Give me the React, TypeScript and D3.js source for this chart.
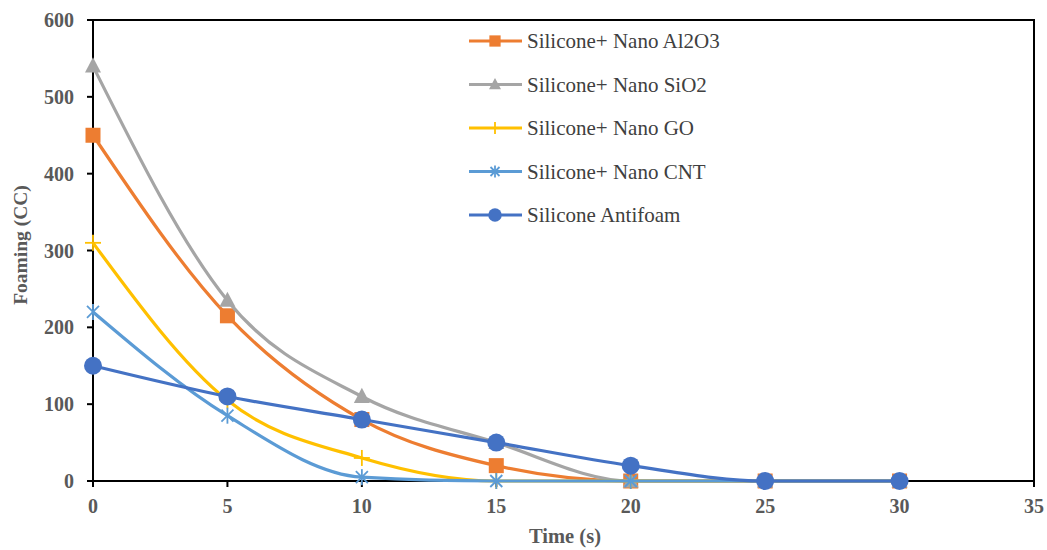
import React from "react";
import * as d3 from "d3";

const times = [0, 5, 10, 15, 20, 25, 30];
const al2o3 = [450, 215, 80, 20, 0, 0, 0];
const sio2 = [540, 235, 110, 50, 0, 0, 0];
const go = [310, 105, 30, 0, 0, 0, 0];
const cnt = [220, 85, 5, 0, 0, 0, 0];
const antifoam = [150, 110, 80, 50, 20, 0, 0];
const xTicks = [0, 5, 10, 15, 20, 25, 30, 35];
const yTicks = [0, 100, 200, 300, 400, 500, 600];

const seriesNames = [
  "Silicone+ Nano Al2O3",
  "Silicone+ Nano SiO2",
  "Silicone+ Nano GO",
  "Silicone+ Nano CNT",
  "Silicone Antifoam",
];
const seriesValues = [al2o3, sio2, go, cnt, antifoam];
const colors = ["#ED7D31", "#A5A5A5", "#FFC000", "#5B9BD5", "#4472C4"];
const markers = ["square", "triangle", "plus", "star", "circle"];

const W = 1047;
const H = 550;
const left = 93;
const right = 1034;
const top = 20;
const bottom = 481;

function Marker({ type, x, y, color, scale = 1 }: any) {
  if (type === "square") {
    const s = 15 * scale;
    return <rect x={x - s / 2} y={y - s / 2} width={s} height={s} fill={color} />;
  }
  if (type === "triangle") {
    const s = 16 * scale;
    return (
      <path
        d={`M${x},${y - s * 0.55} L${x + s / 2},${y + s * 0.4} L${x - s / 2},${y + s * 0.4} Z`}
        fill={color}
      />
    );
  }
  if (type === "plus") {
    const s = 8 * scale;
    return (
      <g stroke={color} strokeWidth={1.8}>
        <line x1={x - s} y1={y} x2={x + s} y2={y} />
        <line x1={x} y1={y - s} x2={x} y2={y + s} />
      </g>
    );
  }
  if (type === "star") {
    const s = 8 * scale;
    const d = s * 0.75;
    return (
      <g stroke={color} strokeWidth={1.8}>
        <line x1={x} y1={y - s} x2={x} y2={y + s} />
        <line x1={x - d} y1={y - d} x2={x + d} y2={y + d} />
        <line x1={x - d} y1={y + d} x2={x + d} y2={y - d} />
      </g>
    );
  }
  return <circle cx={x} cy={y} r={9 * scale} fill={color} />;
}

export default function App() {
  const x = d3.scaleLinear().domain([0, 35]).range([left, right]);
  const y = d3.scaleLinear().domain([0, 600]).range([bottom, top]);
  const line = d3
    .line<number>()
    .x((_, i) => x(times[i]))
    .y((d) => y(d))
    .curve(d3.curveMonotoneX);

  const labelColor = "#595959";
  const font = "'Liberation Serif', 'Times New Roman', serif";

  return (
    <svg width={W} height={H} style={{ position: "absolute", left: 0, top: 0, background: "#fff" }}>
      <rect x={left} y={top} width={right - left} height={bottom - top} fill="none" stroke="#000" strokeWidth={2} />
      {yTicks.map((t) => (
        <g key={"y" + t}>
          <line x1={left - 6} x2={left} y1={y(t)} y2={y(t)} stroke="#000" strokeWidth={2} />
          <text
            x={left - 19}
            y={y(t)}
            dy="0.35em"
            textAnchor="end"
            fontFamily={font}
            fontWeight="bold"
            fontSize={20}
            fill={labelColor}
          >
            {t}
          </text>
        </g>
      ))}
      {xTicks.map((t) => (
        <g key={"x" + t}>
          <line x1={x(t)} x2={x(t)} y1={bottom} y2={bottom + 6} stroke="#000" strokeWidth={2} />
          <text
            x={x(t)}
            y={bottom + 32}
            textAnchor="middle"
            fontFamily={font}
            fontWeight="bold"
            fontSize={20}
            fill={labelColor}
          >
            {t}
          </text>
        </g>
      ))}
      <text
        x={565}
        y={543}
        textAnchor="middle"
        fontFamily={font}
        fontWeight="bold"
        fontSize={20.5}
        fill={labelColor}
      >
        Time (s)
      </text>
      <text
        transform={`translate(27,245) rotate(-90)`}
        textAnchor="middle"
        fontFamily={font}
        fontWeight="bold"
        fontSize={19.5}
        fill={labelColor}
      >
        Foaming (CC)
      </text>
      {seriesValues.map((vals, si) => (
        <g key={"s" + si}>
          <path d={line(vals) || ""} fill="none" stroke={colors[si]} strokeWidth={3.2} strokeLinejoin="round" />
          {vals.map((v, i) => (
            <Marker key={i} type={markers[si]} x={x(times[i])} y={y(v)} color={colors[si]} />
          ))}
        </g>
      ))}
      {seriesNames.map((name, i) => {
        const ly = 41 + i * 43.5;
        return (
          <g key={"l" + i}>
            <line x1={469} x2={522} y1={ly} y2={ly} stroke={colors[i]} strokeWidth={3.2} />
            <Marker type={markers[i]} x={495} y={ly} color={colors[i]} scale={0.75} />
            <text x={527} y={ly} dy="0.35em" fontFamily={font} fontSize={21} fill="#404040">
              {name}
            </text>
          </g>
        );
      })}
    </svg>
  );
}
